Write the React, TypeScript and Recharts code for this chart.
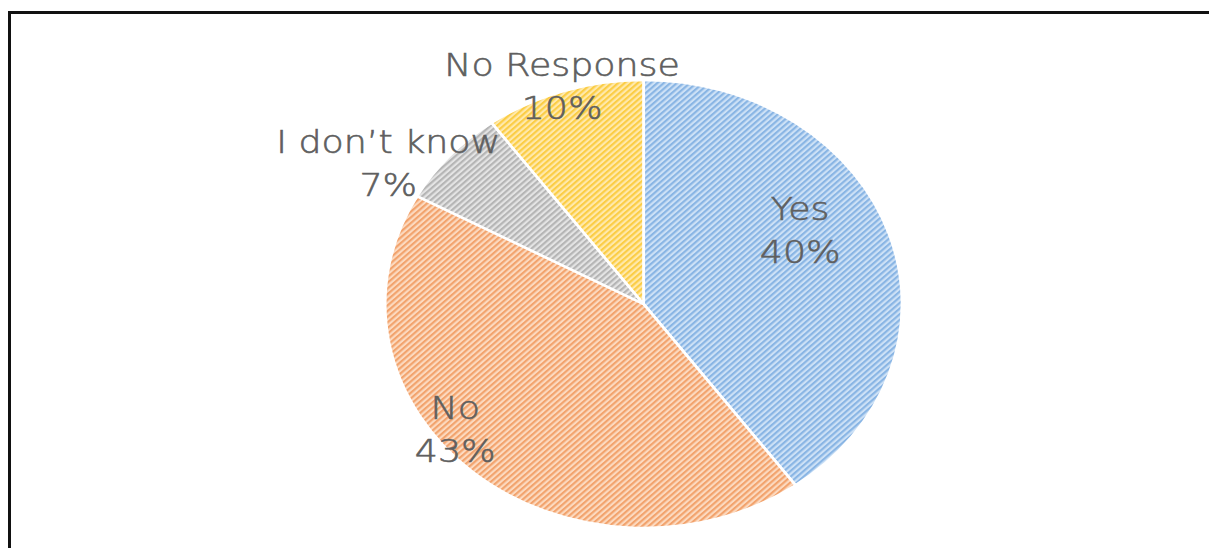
import React from 'react';
import { PieChart, Pie, Cell } from 'recharts';

const categories = ['Yes', 'No', 'I don’t know', 'No Response'];
const shares = [40, 43, 7, 10];
const percentLabels = ['40%', '43%', '7%', '10%'];

const data = categories.map((name, i) => ({ name, value: shares[i] }));

const PATTERNS = [
  { id: 'hatchBlue', bg: '#cde1f6', fg: '#89b5e4' },
  { id: 'hatchOrange', bg: '#fcdac0', fg: '#f2a36d' },
  { id: 'hatchGray', bg: '#e4e4e4', fg: '#b5b5b5' },
  { id: 'hatchYellow', bg: '#ffe9ac', fg: '#fbcd45' },
];

const LABEL_R = [0.69, 0.92, 1.17, 1.02];
const LABEL_DA = [10.6, -11, 9, 0];
const RADIAN = Math.PI / 180;
const FONT = "'DejaVu Sans', sans-serif";

function renderLabel(props: any) {
  const { cx, cy, midAngle, outerRadius, index } = props;
  const a = (midAngle + LABEL_DA[index]) * RADIAN;
  const r = outerRadius * LABEL_R[index];
  const x = cx + r * Math.cos(a);
  const y = cy - r * Math.sin(a);
  return (
    <text
      textAnchor="middle"
      fill="#5f5f5f"
      fontSize={31.5}
      fontWeight={200}
      fontFamily={FONT}
      stroke="#5f5f5f"
      strokeWidth={0.6}
    >
      <tspan x={x} y={y - 10.5}>{categories[index]}</tspan>
      <tspan x={x} y={y + 32.5}>{percentLabels[index]}</tspan>
    </text>
  );
}

export default function App() {
  return (
    <div style={{ position: 'relative', width: 1205, height: 540, overflow: 'hidden' }}>
      <svg width={0} height={0} style={{ position: 'absolute' }}>
        <defs>
          {PATTERNS.map((p) => (
            <pattern
              key={p.id}
              id={p.id}
              width={4}
              height={4}
              patternUnits="userSpaceOnUse"
              patternTransform="rotate(-45)"
            >
              <rect width={4} height={4} fill={p.bg} />
              <rect width={4} height={2} fill={p.fg} />
            </pattern>
          ))}
        </defs>
      </svg>
      <div
        style={{
          position: 'absolute',
          left: 0,
          top: 3,
          width: 2000,
          height: 2000,
          borderLeft: '3px solid #111',
          borderTop: '3px solid #111',
        }}
      />
      <div
        style={{
          position: 'absolute',
          left: 174,
          top: 16,
          width: 800,
          height: 540,
          transform: 'scaleX(1.154)',
          transformOrigin: '0 0',
        }}
      >
        <PieChart width={800} height={540} margin={{ top: 0, right: 0, bottom: 0, left: 0 }}>
          <Pie
            data={data}
            dataKey="value"
            nameKey="name"
            cx={400}
            cy={280}
            outerRadius={224}
            startAngle={90}
            endAngle={-270}
            stroke="#ffffff"
            strokeWidth={2.5}
            label={renderLabel}
            labelLine={false}
            isAnimationActive={false}
          >
            {data.map((d, i) => (
              <Cell key={d.name} fill={`url(#${PATTERNS[i].id})`} />
            ))}
          </Pie>
        </PieChart>
      </div>
    </div>
  );
}
